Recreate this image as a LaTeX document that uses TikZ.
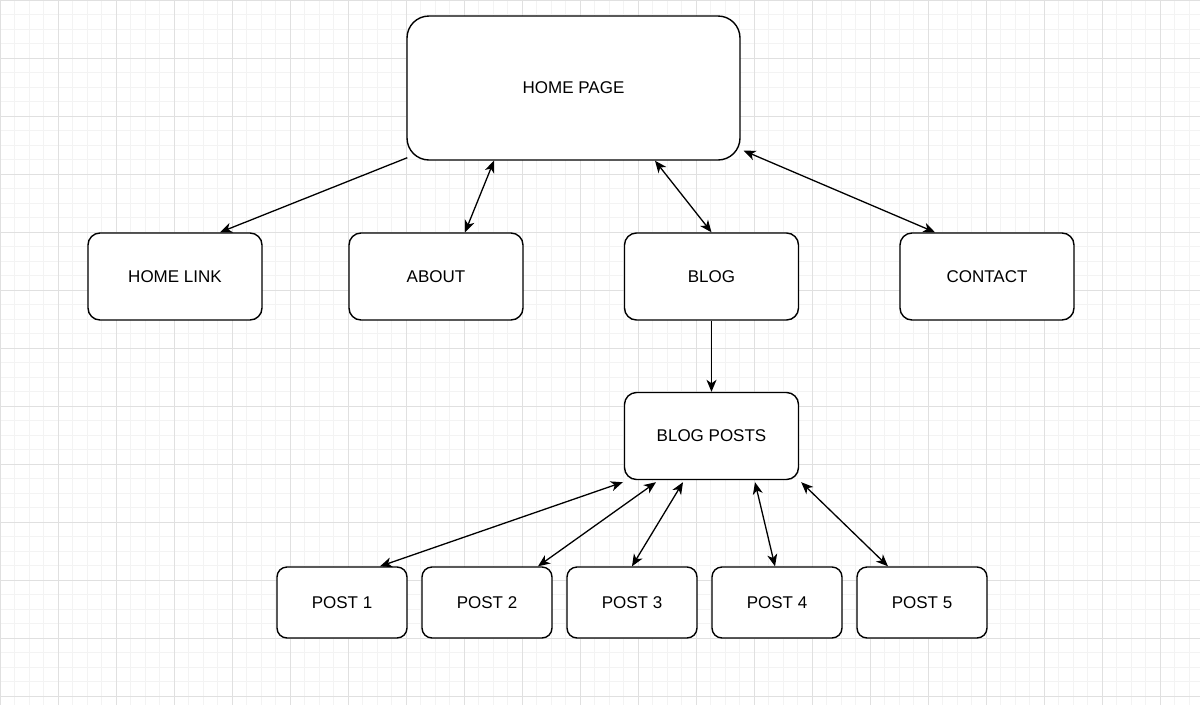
\documentclass[tikz,border=0pt]{standalone}
\usepackage{fontspec}
\setmainfont{Liberation Sans}
\usepackage{tikz}
\usetikzlibrary{arrows.meta}
\usepackage{xcolor}

\definecolor{gridminor}{HTML}{F3F3F3}
\definecolor{gridmajor}{HTML}{E0E0E0}

\tikzset{
	box/.style={draw=black, line width=1.4pt, fill=white, rounded corners=12pt, inner sep=0pt,
		minimum width=174pt, minimum height=87pt, font=\fontsize{17}{20}\selectfont},
	pagebox/.style={box, rounded corners=22pt, minimum width=333pt, minimum height=144pt},
	postbox/.style={box, rounded corners=10pt, minimum width=130pt, minimum height=71pt},
	link/.style={draw=black, line width=1.3pt, -{Stealth[length=12pt, width=10pt, inset=3.5pt]}},
	twolink/.style={link, {Stealth[length=12pt, width=10pt, inset=3.5pt]}-{Stealth[length=12pt, width=10pt, inset=3.5pt]}}
}

\begin{document}
\begin{tikzpicture}[x=1pt, y=-1pt]
			    		\useasboundingbox (0,0) rectangle (1200,705);
			    		\fill[white] (0,0) rectangle (1200,705);
			    		% grid
			    		\foreach \i in {0,...,82} \draw[gridminor, line width=0.8pt] (\i*14.5, 0)--(\i*14.5, 705);
			    		\foreach \i in {0,...,48} \draw[gridminor, line width=0.8pt] (0, \i*14.5)--(1200, \i*14.5);
			    		\foreach \i in {0,...,20} \draw[gridmajor, line width=0.8pt] (\i*58, 0)--(\i*58, 705);
			    		\foreach \i in {0,...,12} \draw[gridmajor, line width=0.8pt] (0, \i*58)--(1200, \i*58);
			    		% boxes
			    		\node[pagebox] (home) at (573.5, 88) {HOME PAGE};
			    		\node[box] (homelink) at (175, 276.5) {HOME LINK};
			    		\node[box] (about) at (436, 276.5) {ABOUT};
			    		\node[box] (blog) at (711.5, 276.5) {BLOG};
			    		\node[box] (contact) at (987, 276.5) {CONTACT};
			    		\node[box] (posts) at (711.5, 436) {BLOG POSTS};
			    		\node[postbox] (post1) at (342, 602.5) {POST 1};
			    		\node[postbox] (post2) at (487, 602.5) {POST 2};
			    		\node[postbox] (post3) at (632, 602.5) {POST 3};
			    		\node[postbox] (post4) at (777, 602.5) {POST 4};
			    		\node[postbox] (post5) at (922, 602.5) {POST 5};
			    		% links
			    		\draw[link] ([xshift=1pt, yshift=3pt]home.south west)--([xshift=45pt]homelink.north);
			    		\draw[twolink] ([xshift=-79.5pt]home.south)--([xshift=29pt]about.north);
			    		\draw[twolink] ([xshift=81.5pt]home.south)--(blog.north);
			    		\draw[twolink] ([xshift=3pt, yshift=10pt]home.south east)--([xshift=-52pt]contact.north);
			    		\draw[link] (blog.south)--(posts.north);
			    		\draw[twolink] ([xshift=-1pt, yshift=-2pt]posts.south west)--([xshift=38pt]post1.north);
			    		\draw[twolink] ([xshift=-55.5pt, yshift=-2pt]posts.south)--([xshift=51pt]post2.north);
			    		\draw[twolink] ([xshift=-28.5pt, yshift=-2pt]posts.south)--(post3.north);
			    		\draw[twolink] ([xshift=43.5pt, yshift=-2pt]posts.south)--([xshift=-2pt]post4.north);
			    		\draw[twolink] ([xshift=2pt, yshift=-2pt]posts.south east)--([xshift=-34pt]post5.north);
			    	\end{tikzpicture}
\end{document}
